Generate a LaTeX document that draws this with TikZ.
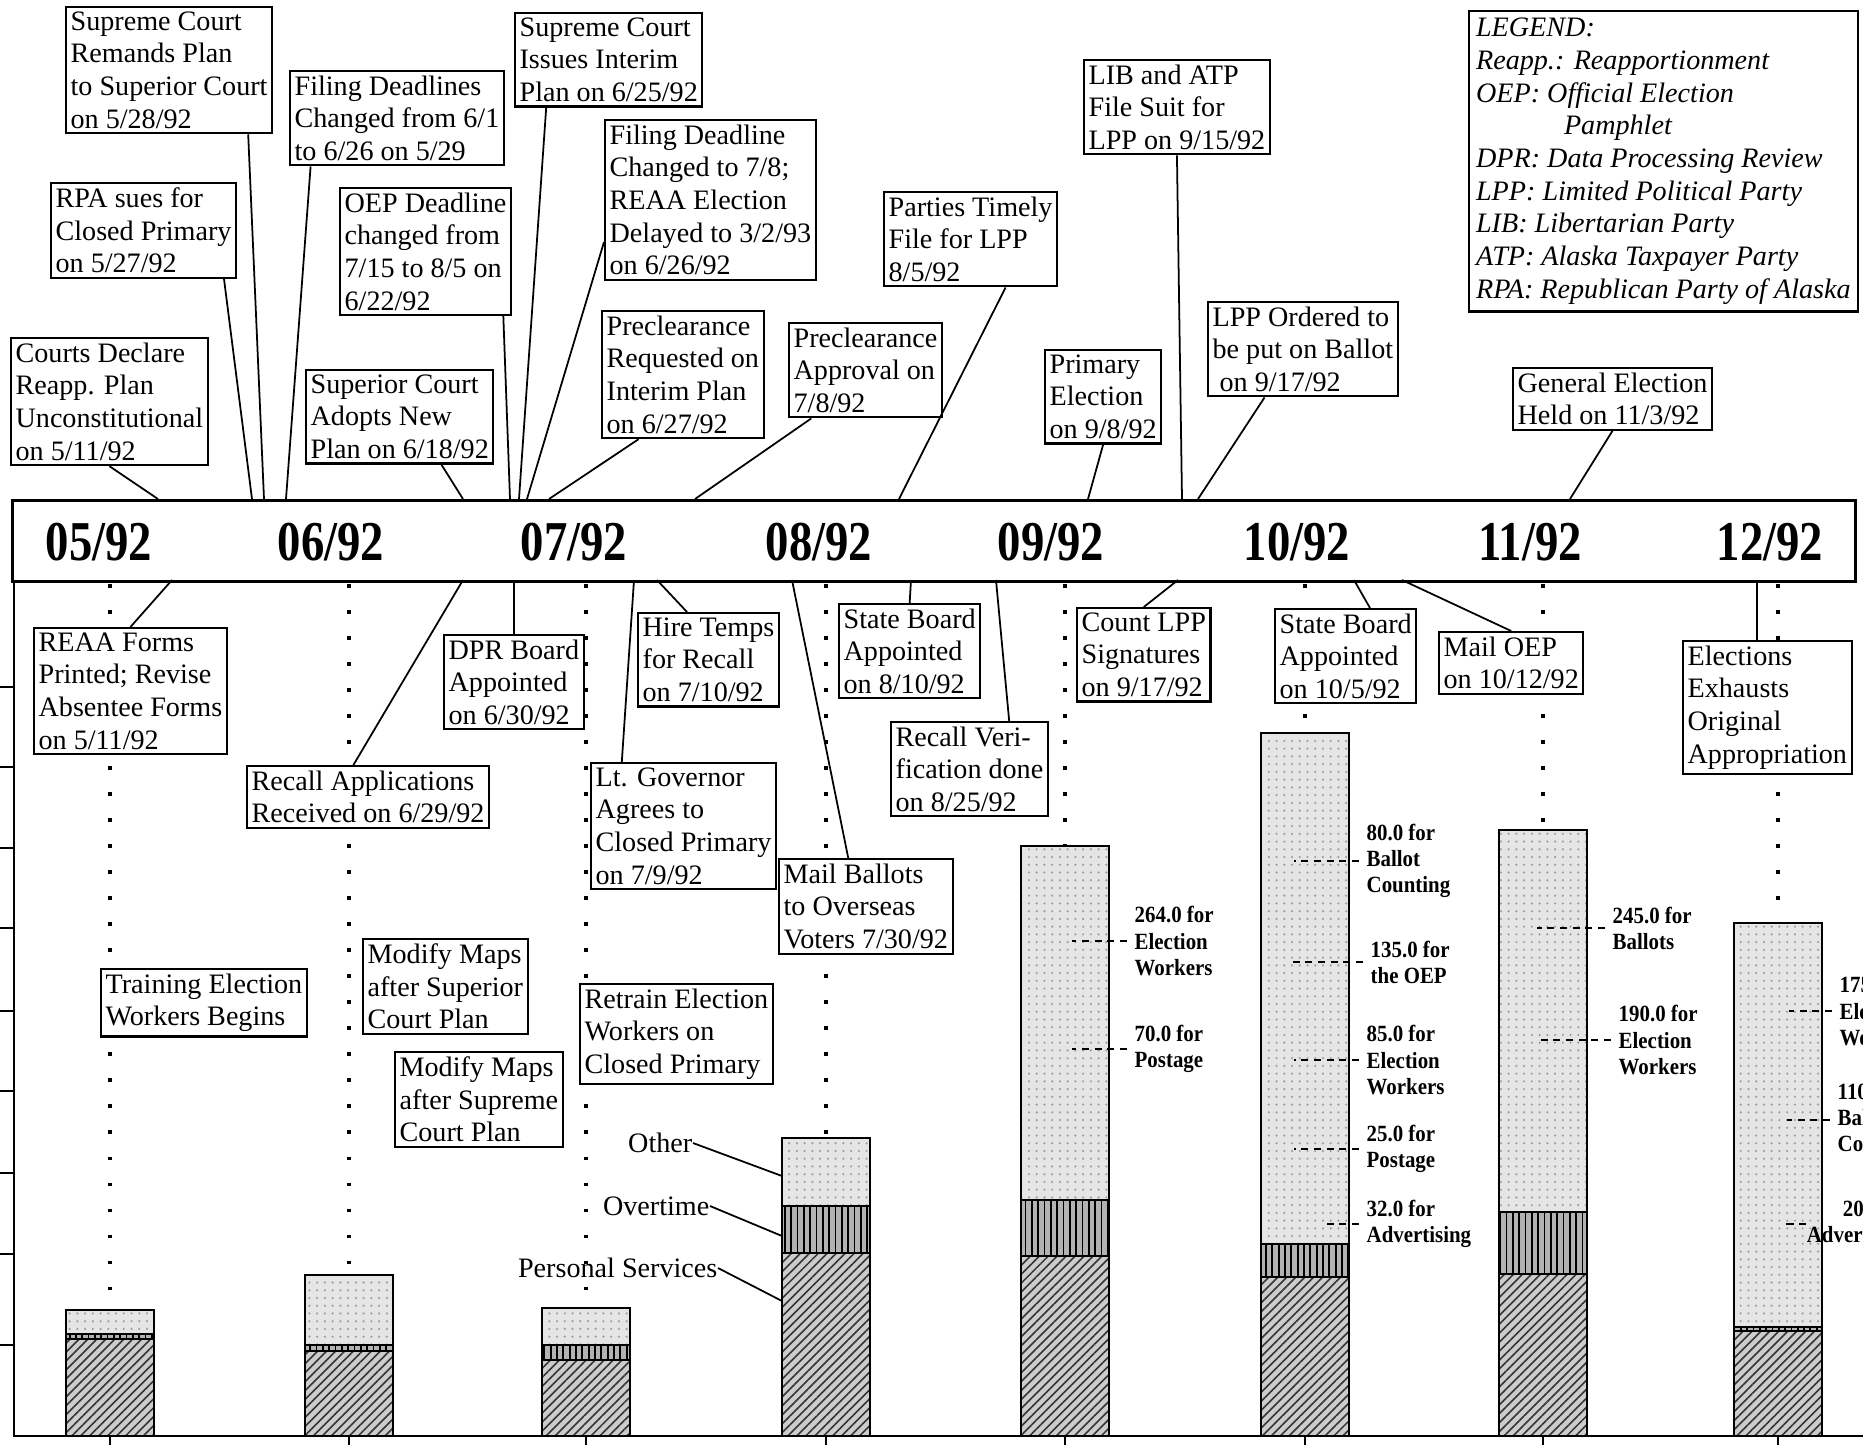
\documentclass[tikz,border=0pt]{standalone}
\usepackage{fontspec}
\setmainfont{Liberation Serif}
\newfontfamily\monthfam[FakeStretch=0.83]{Liberation Serif}
\newfontfamily\barfam[FakeStretch=0.9]{Liberation Serif}
\usetikzlibrary{calc,patterns.meta}

\newcommand{\evfont}{\fontsize{8}{9.3}\selectfont}
\newcommand{\monthfont}{\monthfam\bfseries\fontsize{16}{16}\selectfont}
\newcommand{\barfont}{\barfam\bfseries\fontsize{6.6}{7.4}\selectfont}

\tikzset{
  evbox/.style={draw, line width=0.6pt, fill=white, inner sep=1.3pt, align=left, font=\evfont, anchor=north west},
  link/.style={line width=0.5pt},
  leader/.style={line width=0.6pt, dash pattern=on 2pt off 1.6pt},
  monthdots/.style={line width=1pt, dash pattern=on 1pt off 6.4pt},
  monthlbl/.style={font=\monthfont, inner sep=0pt},
  barlbl/.style={font=\barfont, align=left, inner sep=0pt, anchor=west},
  keylbl/.style={font=\evfont, inner sep=0pt, anchor=east},
  axis/.style={line width=0.7pt},
  barline/.style={line width=0.8pt},
  othfill/.style={fill=gray!20, postaction={pattern={Dots[distance=2.2pt, radius=0.35pt]}, pattern color=gray!75}},
  otfill/.style={fill=gray!60, postaction={pattern={Lines[angle=90, distance=1.8pt, line width=0.5pt]}, pattern color=black}},
  psfill/.style={fill=gray!40, postaction={pattern={Lines[angle=45, distance=1.8pt, line width=0.45pt]}, pattern color=black!80}}
}

\begin{document}
\begin{tikzpicture}[x=0.01cm, y=-0.01cm]
    \useasboundingbox (0,0) rectangle (1863,1445);

    % month guide lines
    \foreach \x in {110,349,586,826,1065,1305,1543,1778}
        \draw[monthdots] (\x,584) -- (\x,1436);

    % cost bars: other / overtime / personal services
    \foreach \m/\x/\o/\t/\p in {05/110/1310/1334/1339, 06/349/1275/1345/1351, 07/586/1308/1345/1360, 08/826/1138/1206/1253, 09/1065/846/1200/1256, 10/1305/733/1244/1277, 11/1543/830/1212/1274, 12/1778/923/1327/1331}{
        \fill[othfill] ({\x-44},\o) rectangle ({\x+44},\t);
        \fill[otfill] ({\x-44},\t) rectangle ({\x+44},\p);
        \fill[psfill] ({\x-44},\p) rectangle ({\x+44},1436);
        \draw[barline] ({\x-44},\t) -- ({\x+44},\t) ({\x-44},\p) -- ({\x+44},\p);
        \draw[barline] ({\x-44},\o) rectangle ({\x+44},1436);
    }

    % axes
    \draw[axis] (14,580) -- (14,1436) -- (1863,1436);
    \foreach \y in {687,767,848,928,1011,1091,1173,1254,1345}
        \draw[axis] (0,\y) -- (14,\y);
    \foreach \x in {110,349,586,826,1065,1305,1543,1778}
        \draw[axis] (\x,1436) -- (\x,1445);

    % time band
    \node[draw, line width=0.8pt, minimum width=18.42cm, minimum height=0.81cm, inner sep=0pt, anchor=north west] (band) at (11,499) {};
    \foreach \m/\x in {05/99, 06/331, 07/574, 08/819, 09/1051, 10/1297, 11/1530, 12/1770}
        \node[monthlbl] (m\m) at (\x,542) {\m/92};

    % events above the band
    \node[evbox] (remand) at (65,6) {Supreme Court\\Remands Plan\\to Superior Court\\on 5/28/92};
    \node[evbox] (rpa) at (50,182) {RPA sues for\\Closed Primary\\on 5/27/92};
    \node[evbox] (crt) at (10,337) {Courts Declare\\Reapp. Plan\\Unconstitutional\\on 5/11/92};
    \node[evbox] (fdl) at (289,70) {Filing Deadlines\\Changed from 6/1\\to 6/26 on 5/29};
    \node[evbox] (oep) at (339,187) {OEP Deadline\\changed from\\7/15 to 8/5 on\\6/22/92};
    \node[evbox] (sca) at (305,369) {Superior Court\\Adopts New\\Plan on 6/18/92};
    \node[evbox] (sci) at (514,12) {Supreme Court\\Issues Interim\\Plan on 6/25/92};
    \node[evbox] (fdt) at (604,119) {Filing Deadline\\Changed to 7/8;\\REAA Election\\Delayed to 3/2/93\\on 6/26/92};
    \node[evbox] (prq) at (601,310) {Preclearance\\Requested on\\Interim Plan\\on 6/27/92};
    \node[evbox] (pap) at (788,322) {Preclearance\\Approval on\\7/8/92};
    \node[evbox] (ptf) at (883,191) {Parties Timely\\File for LPP\\8/5/92};
    \node[evbox] (lib) at (1083,59) {LIB and ATP\\File Suit for\\LPP on 9/15/92};
    \node[evbox] (pri) at (1044,349) {Primary\\Election\\on 9/8/92};
    \node[evbox] (lpo) at (1207,301) {LPP Ordered to\\be put on Ballot\\\hspace*{2pt}on 9/17/92};
    \node[evbox] (gen) at (1512,367) {General Election\\Held on 11/3/92};

    % legend
    \node[draw, line width=0.6pt, fill=white, inner sep=2pt, align=left, anchor=north west, font=\evfont\itshape] (legend) at (1468,10)
        {LEGEND:\\Reapp.: Reapportionment\\OEP: Official Election\\\hspace*{25pt}Pamphlet\\DPR: Data Processing Review\\LPP: Limited Political Party\\LIB: Libertarian Party\\ATP: Alaska Taxpayer Party\\RPA: Republican Party of Alaska};

    % events below the band
    \node[evbox] (reaa) at (33,627) {REAA Forms\\Printed; Revise\\Absentee Forms\\on 5/11/92};
    \node[evbox] (dpr) at (443,634) {DPR Board\\Appointed\\on 6/30/92};
    \node[evbox] (rca) at (246,765) {Recall Applications\\Received on 6/29/92};
    \node[evbox] (hire) at (637,612) {Hire Temps\\for Recall\\on 7/10/92};
    \node[evbox] (ltg) at (590,762) {Lt. Governor\\Agrees to\\Closed Primary\\on 7/9/92};
    \node[evbox] (sb8) at (838,603) {State Board\\Appointed\\on 8/10/92};
    \node[evbox] (mail) at (778,858) {Mail Ballots\\to Overseas\\Voters 7/30/92};
    \node[evbox] (rver) at (890,721) {Recall Veri-\\fication done\\on 8/25/92};
    \node[evbox] (cnt) at (1076,607) {Count LPP\\Signatures\\on 9/17/92};
    \node[evbox] (sb10) at (1274,608) {State Board\\Appointed\\on 10/5/92};
    \node[evbox] (moep) at (1438,631) {Mail OEP\\on 10/12/92};
    \node[evbox] (exh) at (1682,640) {Elections\\Exhausts\\Original\\Appropriation};
    \node[evbox] (trn) at (100,968) {Training Election\\Workers Begins};
    \node[evbox] (mms) at (362,938) {Modify Maps\\after Superior\\Court Plan};
    \node[evbox] (mmp) at (394,1051) {Modify Maps\\after Supreme\\Court Plan};
    \node[evbox] (rtr) at (579,983) {Retrain Election\\Workers on\\Closed Primary};

    % where the connectors meet the band
    \foreach \nm/\x in {crtA/158, rpaA/252, remA/264, fdlA/286, scaA/463, oepA/510, sciA/519, fdtA/527, prqA/549, papA/695, ptfA/899, priA/1088, libA/1182, lpoA/1198, genA/1570}
        \coordinate (\nm) at (\x,499);
    \foreach \nm/\x in {reaaB/172, rcaB/463, ltgB/634, hireB/657, mailB/792, sb8B/911, rverB/996, cntB/1178, sb10B/1354, moepB/1402}
        \coordinate (\nm) at (\x,580);

    \draw[link] (crt.south) -- (crtA);
    \draw[link] ($(rpa.south west)!.93!(rpa.south east)$) -- (rpaA);
    \draw[link] ($(remand.south west)!.88!(remand.south east)$) -- (remA);
    \draw[link] ($(fdl.south west)!.1!(fdl.south east)$) -- (fdlA);
    \draw[link] ($(sca.south west)!.72!(sca.south east)$) -- (scaA);
    \draw[link] ($(oep.south west)!.95!(oep.south east)$) -- (oepA);
    \draw[link] ($(sci.south west)!.17!(sci.south east)$) -- (sciA);
    \draw[link] ($(fdt.north west)!.76!(fdt.south west)$) -- (fdtA);
    \draw[link] ($(prq.south west)!.23!(prq.south east)$) -- (prqA);
    \draw[link] ($(pap.south west)!.15!(pap.south east)$) -- (papA);
    \draw[link] ($(ptf.south west)!.7!(ptf.south east)$) -- (ptfA);
    \draw[link] (pri.south) -- (priA);
    \draw[link] (lib.south) -- (libA);
    \draw[link] ($(lpo.south west)!.3!(lpo.south east)$) -- (lpoA);
    \draw[link] (gen.south) -- (genA);

    \draw[link] (reaaB) -- (reaa.north);
    \draw[link] (dpr.north) -- (dpr.north |- band.south);
    \draw[link] (rcaB) -- ($(rca.north west)!.44!(rca.north east)$);
    \draw[link] (ltgB) -- ($(ltg.north west)!.17!(ltg.north east)$);
    \draw[link] (hireB) -- ($(hire.north west)!.35!(hire.north east)$);
    \draw[link] (mailB) -- ($(mail.north west)!.4!(mail.north east)$);
    \draw[link] (sb8B) -- (sb8.north);
    \draw[link] (rverB) -- ($(rver.north west)!.75!(rver.north east)$);
    \draw[link] (cntB) -- (cnt.north);
    \draw[link] (sb10B) -- ($(sb10.north west)!.67!(sb10.north east)$);
    \draw[link] (moepB) -- (moep.north);
    \draw[link] ($(exh.north west)!.44!(exh.north east)$) coordinate (exhT) -- (exhT |- band.south);

    % bar key
    \node[keylbl] (kother) at (693,1143) {Other};
    \node[keylbl] (kover) at (710,1206) {Overtime};
    \node[keylbl] (kpers) at (718,1268) {Personal Services};
    \coordinate (kotherB) at (782,1176);
    \coordinate (koverB) at (782,1236);
    \coordinate (kpersB) at (782,1301);
    \draw[link] (kother.east) -- (kotherB);
    \draw[link] (kover.east) -- (koverB);
    \draw[link] (kpers.east) -- (kpersB);

    % cost notes on the bars
    \node[barlbl] (c264) at (1134,941) {264.0 for\\Election\\Workers};
    \node[barlbl] (c70) at (1134,1049) {70.0 for\\Postage};
    \node[barlbl] (c80) at (1366,861) {80.0 for\\Ballot\\Counting};
    \node[barlbl] (c135) at (1370,962) {135.0 for\\the OEP};
    \node[barlbl] (c85) at (1366,1060) {85.0 for\\Election\\Workers};
    \node[barlbl] (c25) at (1366,1149) {25.0 for\\Postage};
    \node[barlbl] (c32) at (1366,1224) {32.0 for\\Advertising};
    \node[barlbl] (c245) at (1612,928) {245.0 for\\Ballots};
    \node[barlbl] (c190) at (1618,1040) {190.0 for\\Election\\Workers};
    \node[barlbl] (c175) at (1839,1011) {175.0 for\\Election\\Workers};
    \node[barlbl] (c110) at (1837,1120) {110.0 for\\Ballot\\Counting};
    \node[barlbl, align=right, anchor=east] (c20) at (1912,1224) {20.0 for\\Advertising};

    \draw[leader, shorten <=2pt] (c264.west) -- ++(-62,0);
    \draw[leader, shorten <=2pt] (c70.west) -- ++(-62,0);
    \draw[leader, shorten <=2pt] (c80.west) -- ++(-72,0);
    \draw[leader, shorten <=2pt] (c135.west) -- ++(-78,0);
    \draw[leader, shorten <=2pt] (c85.west) -- ++(-72,0);
    \draw[leader, shorten <=2pt] (c25.west) -- ++(-72,0);
    \draw[leader, shorten <=2pt] (c32.west) -- ++(-40,0);
    \draw[leader, shorten <=2pt] (c245.west) -- ++(-75,0);
    \draw[leader, shorten <=2pt] (c190.west) -- ++(-80,0);
    \draw[leader, shorten <=2pt] (c175.west) -- ++(-50,0);
    \draw[leader, shorten <=2pt] (c110.west) -- ++(-50,0);
    \draw[leader] (c20.west) -- ++(-25,0);
\end{tikzpicture}
\end{document}
